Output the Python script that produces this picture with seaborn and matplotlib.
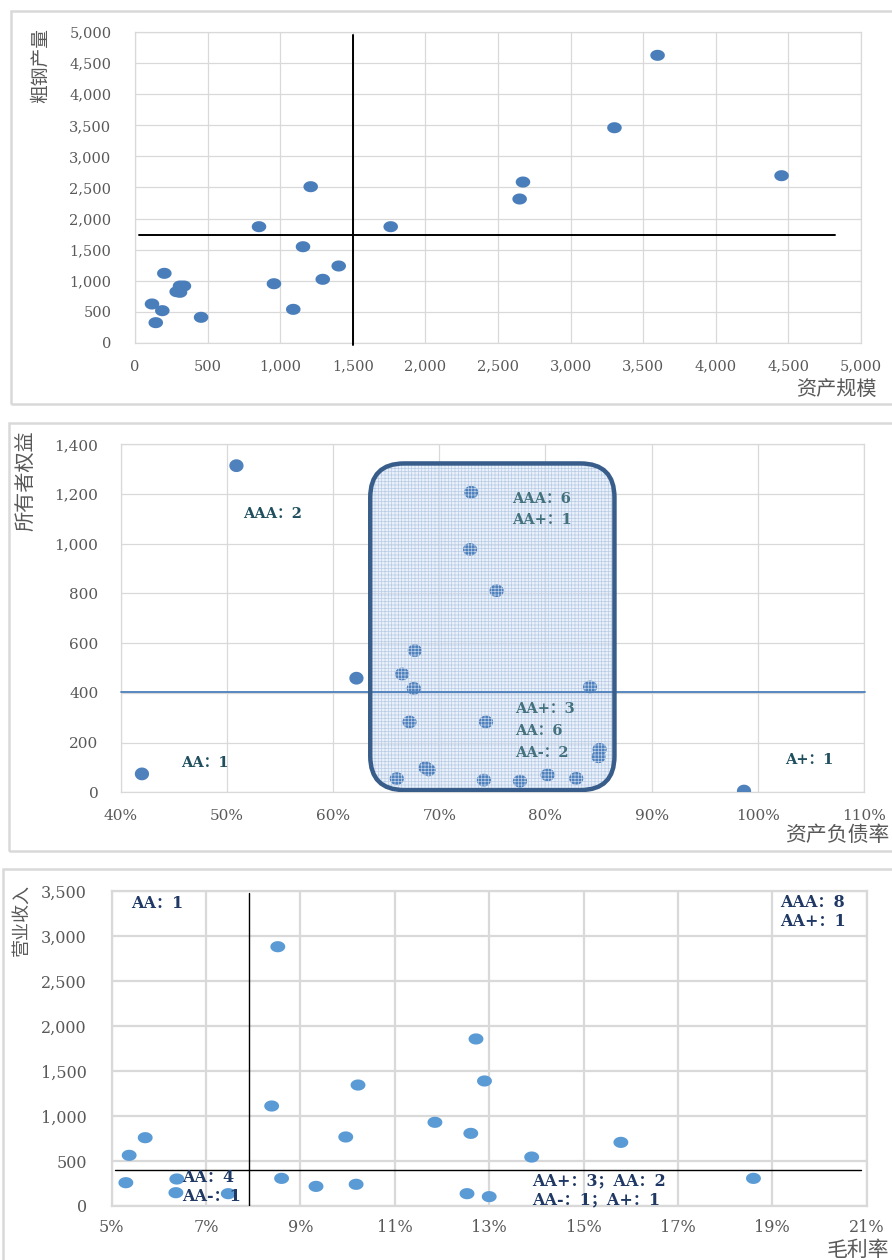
import matplotlib
matplotlib.use('Agg')

import numpy as np
import matplotlib.pyplot as plt
import seaborn as sns
from matplotlib.path import Path
from matplotlib.patches import FancyBboxPatch, Rectangle
from matplotlib.ticker import MultipleLocator, FuncFormatter, PercentFormatter

# ---------------- DATA ----------------
# panel 1: 资产规模 vs 粗钢产量
asset_scale = [117, 143, 188, 202, 287, 310, 337, 310, 455, 854, 957, 1090, 1157,
               1210, 1293, 1403, 1761, 2672, 2649, 3302, 3599, 4453]
steel_output = [627, 327, 520, 1120, 825, 916, 916, 815, 413, 1870, 953, 541, 1548,
                2513, 1024, 1238, 1870, 2588, 2315, 3461, 4625, 2690]
p1_vline = 1500
p1_hline = 1731

# panel 2: 资产负债率 vs 所有者权益
debt_ratio = [0.509, 0.420, 0.622, 0.677, 0.665, 0.676, 0.672, 0.687, 0.690, 0.660,
              0.730, 0.729, 0.754, 0.842, 0.744, 0.851, 0.850, 0.742, 0.776, 0.802,
              0.829, 0.987]
equity = [1314, 74, 459, 570, 476, 418, 283, 99, 90, 55, 1207, 977, 811, 424, 283,
          173, 143, 49, 45, 70, 56, 5]
p2_hline = 405
p2_box = (0.635, 9, 0.865, 1323)   # x0, y0, x1, y1 of the highlighted group
p2_notes = [("AAA：2", 0.515, 1118, False), ("AA：1", 0.4565, 119, False),
            ("AAA：6", 0.769, 1180, True), ("AA+：1", 0.769, 1095, True),
            ("AA+：3", 0.771, 334, True), ("AA：6", 0.771, 247, True),
            ("AA-：2", 0.771, 157, True), ("A+：1", 1.026, 130, False)]

# panel 3: 毛利率 vs 营业收入
gross_margin = [0.0852, 0.0839, 0.1022, 0.0996, 0.1185, 0.0571, 0.0537, 0.0530,
                0.0638, 0.0636, 0.0747, 0.0860, 0.0933, 0.1018, 0.1272, 0.1290,
                0.1261, 0.1390, 0.1579, 0.1860, 0.1253, 0.1300]
revenue = [2881, 1111, 1344, 767, 930, 759, 563, 259, 300, 148, 137, 307, 218, 241,
           1856, 1389, 807, 544, 707, 307, 137, 104]
p3_xticks = [0.05, 0.07, 0.09, 0.11, 0.13, 0.15, 0.17, 0.19, 0.21]
p3_vline = 0.0792
p3_hline = 400
p3_notes = [("AA：1", 0.0541, 3356), ("AAA：8", 0.1917, 3374), ("AA+：1", 0.1917, 3159),
            ("AA：4", 0.0650, 319), ("AA-：1", 0.0650, 103),
            ("AA+：3；AA：2", 0.1390, 281), ("AA-：1；A+：1", 0.1390, 67)]
# --------------------------------------

W, H = 892, 1260
GRID = '#d9d9d9'
TICK = '#595959'
CJK = ['Noto Sans CJK SC', 'DejaVu Sans']
SERIF = ['DejaVu Serif', 'Noto Sans CJK SC']

sns.set_theme(style="whitegrid")
plt.rcParams['font.family'] = SERIF
plt.rcParams['hatch.linewidth'] = 0.5


def px_axes(left, top, right, bottom):
    return [left / W, 1 - bottom / H, (right - left) / W, (bottom - top) / H]


def ellipse_marker(aspect):
    t = np.linspace(0, 2 * np.pi, 48)
    return Path(np.column_stack([np.cos(t), np.sin(t) * aspect]), closed=True)


def style_axes(ax, grid_lw, fs, xpad, ypad):
    ax.set_facecolor('white')
    ax.grid(True, color=GRID, lw=grid_lw)
    ax.set_axisbelow(True)
    for sp in ax.spines.values():
        sp.set_visible(True)
        sp.set_color(GRID)
        sp.set_linewidth(grid_lw)
    ax.tick_params(length=0, labelsize=fs, labelcolor=TICK)
    ax.tick_params(axis='x', pad=xpad)
    ax.tick_params(axis='y', pad=ypad)
    ax.set_xlabel('')
    ax.set_ylabel('')


def panel_frame(fig, left, top, bottom):
    fig.add_artist(Rectangle((left / W, 1 - bottom / H), 1.2, (bottom - top) / H,
                             transform=fig.transFigure, fill=False,
                             edgecolor=GRID, lw=1.8))


fig = plt.figure(figsize=(W / 100, H / 100), dpi=100)
fig.patch.set_facecolor('white')

panel_frame(fig, 11, 11, 404)
panel_frame(fig, 9, 423, 851)
panel_frame(fig, 3, 869, 1275)

thousands = FuncFormatter(lambda v, p: f"{v:,.0f}")

# ---------- panel 1 ----------
ax1 = fig.add_axes(px_axes(135, 32, 861, 343))
sns.scatterplot(x=asset_scale, y=steel_output, ax=ax1, marker=ellipse_marker(0.76),
                s=110, color='#4a7ebb', edgecolor='none', linewidth=0, zorder=3)
ax1.set_xlim(0, 5000)
ax1.set_ylim(0, 5000)
ax1.xaxis.set_major_locator(MultipleLocator(500))
ax1.yaxis.set_major_locator(MultipleLocator(500))
ax1.xaxis.set_major_formatter(thousands)
ax1.yaxis.set_major_formatter(thousands)
style_axes(ax1, 0.9, 10.5, 12, 17)
ax1.plot([p1_vline, p1_vline], [-30, 4950], color='black', lw=1.4, clip_on=False, zorder=4)
ax1.plot([30, 4820], [p1_hline, p1_hline], color='black', lw=1.4, clip_on=False, zorder=4)
fig.text(40 / W, 1 - 28 / H, "粗钢产量", rotation=90, ha='center', va='top',
         family=CJK, fontsize=13.5, color=TICK)
fig.text(877 / W, 1 - 389 / H, "资产规模", ha='right', va='center',
         family=CJK, fontsize=14.5, color=TICK)

# ---------- panel 2 ----------
ax2 = fig.add_axes(px_axes(120.7, 444.3, 864, 792.3))
ax2.set_xlim(0.4, 1.1)
ax2.set_ylim(0, 1400)
ax2.xaxis.set_major_locator(MultipleLocator(0.1))
ax2.yaxis.set_major_locator(MultipleLocator(200))
ax2.xaxis.set_major_formatter(PercentFormatter(xmax=1, decimals=0))
ax2.yaxis.set_major_formatter(thousands)
style_axes(ax2, 0.9, 11, 12, 16)

# rounded box: work out data units per pixel so the corners stay circular
pos = ax2.get_position()
ux = 0.7 / (pos.width * W)
uy = 1400 / (pos.height * H)
r_px = 34
bx0, by0, bx1, by1 = p2_box
box_kw = dict(boxstyle=f"round,pad=0,rounding_size={r_px * ux}",
              mutation_aspect=uy / ux)
ax2.add_patch(FancyBboxPatch((bx0, by0), bx1 - bx0, by1 - by0, facecolor=(0.86, 0.9, 0.97, 0.55),
                             edgecolor='none', lw=0, zorder=1, **box_kw))

sns.scatterplot(x=debt_ratio, y=equity, ax=ax2, marker=ellipse_marker(0.9),
                s=105, color='#4f81bd', edgecolor='none', linewidth=0, zorder=3)

ax2.add_patch(FancyBboxPatch((bx0, by0), bx1 - bx0, by1 - by0, facecolor='none',
                             edgecolor='#b9cce6', hatch='+++++', lw=0, zorder=4, **box_kw))
ax2.add_patch(FancyBboxPatch((bx0, by0), bx1 - bx0, by1 - by0, facecolor='none',
                             edgecolor='#385d8a', lw=3.2, zorder=6, **box_kw))
ax2.axhline(p2_hline, xmin=0, xmax=1.002, color='#4a7ebb', lw=1.3, clip_on=False, zorder=5)

for label, x, y, inside in p2_notes:
    ax2.text(x, y, label, ha='left', va='center', fontsize=10.5, fontweight='bold',
             color='#44717e' if inside else '#1f4f5e', zorder=7)

fig.text(27 / W, 1 - 430 / H, "所有者权益", rotation=90, ha='center', va='top',
         family=CJK, fontsize=14.5, color=TICK)
fig.text(785 / W, 1 - 835 / H, "资产负债率", ha='left', va='center',
         family=CJK, fontsize=15, color=TICK)

# ---------- panel 3 ----------
ax3 = fig.add_axes(px_axes(111.7, 891, 866.7, 1206))
sns.scatterplot(x=gross_margin, y=revenue, ax=ax3, marker=ellipse_marker(0.75),
                s=115, color='#5b9bd5', edgecolor='none', linewidth=0, zorder=3)
ax3.set_xlim(p3_xticks[0], p3_xticks[-1])
ax3.set_ylim(0, 3500)
ax3.set_xticks(p3_xticks)
ax3.yaxis.set_major_locator(MultipleLocator(500))
ax3.xaxis.set_major_formatter(PercentFormatter(xmax=1, decimals=0))
ax3.yaxis.set_major_formatter(thousands)
style_axes(ax3, 1.6, 11.5, 9, 18)
ax3.plot([p3_vline, p3_vline], [0, 3480], color='black', lw=1.0, zorder=4)
ax3.plot([0.0508, 0.2087], [p3_hline, p3_hline], color='black', lw=1.0, zorder=4)

for label, x, y in p3_notes:
    ax3.text(x, y, label, ha='left', va='center', fontsize=11.5, fontweight='bold',
             color='#1f3864', zorder=6)

fig.text(22 / W, 1 - 884 / H, "营业收入", rotation=90, ha='center', va='top',
         family=CJK, fontsize=13, color=TICK)
fig.text(889 / W, 1 - 1250 / H, "毛利率", ha='right', va='center',
         family=CJK, fontsize=15, color=TICK)

fig.savefig("out.png", dpi=100, facecolor='white')
